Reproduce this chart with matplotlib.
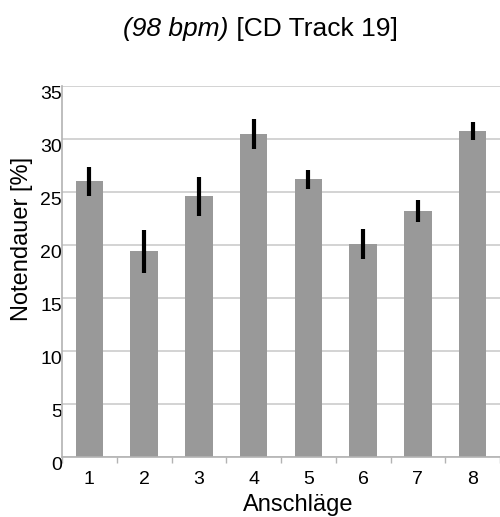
# Bar chart of note durations per stroke with error bars

import matplotlib.pyplot as plt
import numpy as np

plt.rcParams['font.family'] = ['Liberation Sans', 'DejaVu Sans']

strokes = [1, 2, 3, 4, 5, 6, 7, 8]
durations = [26.0, 19.4, 24.6, 30.5, 26.2, 20.1, 23.2, 30.8]
errors = [1.4, 2.0, 1.85, 1.4, 0.9, 1.4, 1.05, 0.85]
yticks = [0, 5, 10, 15, 20, 25, 30, 35]

fig = plt.figure(figsize=(5.0, 5.17), dpi=100)
ax = fig.add_axes([0.124, 0.116, 0.876, 0.7176])

x = np.array(strokes)
ax.bar(x, durations, width=0.5, color='#999999', zorder=2)
ax.errorbar(x, durations, yerr=errors, fmt='none', ecolor='black',
            elinewidth=3, capsize=0, zorder=3)

ax.set_xlim(0.5, 8.5)
ax.set_ylim(0, 35)
ax.set_yticks(yticks)
ax.set_yticklabels([str(t) for t in yticks], fontsize=14)
for lab in ax.get_yticklabels():
    lab.set_verticalalignment('top')
ax.tick_params(axis='y', length=0, pad=0)

ax.set_xticks(x)
ax.set_xticklabels([str(s) for s in strokes], fontsize=14)
ax.set_xticks(np.arange(0.5, 9, 1), minor=True)
ax.tick_params(axis='x', which='major', length=0, pad=10)
ax.tick_params(axis='x', which='minor', length=4, width=1, color='#b3b3b3',
               direction='out')

ax.grid(axis='y', color='#cccccc', linewidth=1.2, zorder=0)
ax.set_axisbelow(True)
for side in ['top', 'right']:
    ax.spines[side].set_visible(False)
for side in ['left', 'bottom']:
    ax.spines[side].set_color('#b3b3b3')
    ax.spines[side].set_linewidth(1.2)

# title: italic tempo part followed by regular track part
ty = 1 - 29 / 517
t1 = fig.text(0, ty, '(98 bpm)', fontsize=19, style='italic', va='center')
t2 = fig.text(0, ty, ' [CD Track 19]', fontsize=19, va='center')
fig.canvas.draw()
r = fig.canvas.get_renderer()
w1 = t1.get_window_extent(r).width
w2 = t2.get_window_extent(r).width
start = 260.5 - (w1 + w2) / 2
t1.set_x(start / 500)
t2.set_x((start + w1) / 500)

fig.text(298 / 500, 1 - 505 / 517, 'Anschläge', fontsize=17,
         ha='center', va='center')
fig.text(22 / 500, 1 - 239 / 517, 'Notendauer [%]', fontsize=17,
         ha='center', va='center', rotation=90)

fig.savefig('out.png', dpi=100)
